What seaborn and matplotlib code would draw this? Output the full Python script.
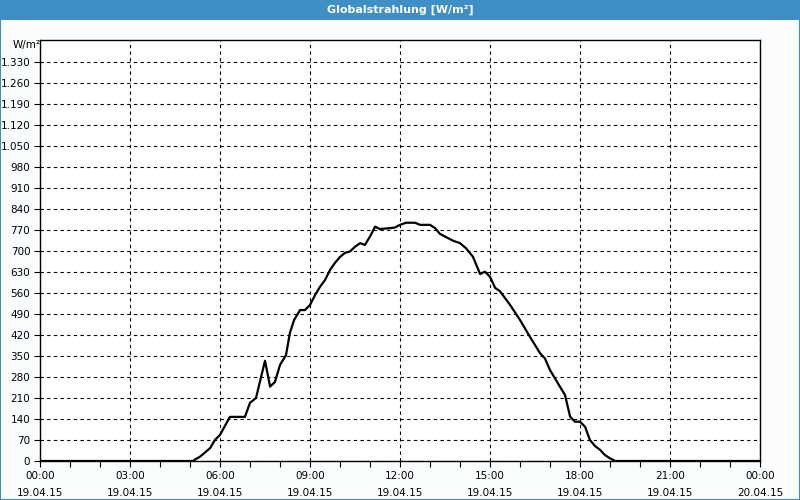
import matplotlib
matplotlib.use("Agg")
import matplotlib.pyplot as plt
import seaborn as sns
import pandas as pd
import numpy as np
from matplotlib.patches import Rectangle

# Data (hours since 19.04.15 00:00, W/m²)
hours = [0.0, 5.1, 5.17, 5.33, 5.67, 5.83, 6.0, 6.33, 6.83, 7.0, 7.2, 7.5, 7.67, 7.83,
         8.0, 8.2, 8.33, 8.47, 8.67, 8.83, 9.0, 9.17, 9.33, 9.5, 9.67, 9.83, 10.0,
         10.17, 10.33, 10.5, 10.67, 10.83, 11.0, 11.17, 11.33, 11.67, 11.83, 12.0,
         12.2, 12.5, 12.67, 13.0, 13.17, 13.33, 13.5, 13.77, 14.0, 14.2, 14.43,
         14.67, 14.83, 15.0, 15.17, 15.33, 15.67, 16.0, 16.33, 16.67, 16.83, 17.0,
         17.33, 17.5, 17.67, 17.83, 18.0, 18.17, 18.33, 18.5, 18.67, 18.83, 19.0,
         19.17, 24.0]
radiation = [0, 0, 5, 14, 43, 70, 87, 147, 147, 194, 210, 334, 248, 263,
             320, 353, 427, 470, 503, 503, 520, 553, 580, 603, 637, 660, 680,
             694, 698, 714, 726, 720, 748, 781, 773, 776, 778, 787,
             794, 794, 787, 787, 776, 757, 748, 734, 726, 709, 681,
             623, 631, 614, 577, 566, 520, 470, 414, 359, 342, 303,
             248, 220, 148, 131, 131, 114, 70, 50, 37, 20, 9,
             0, 0]
xtick_hours = [0, 3, 6, 9, 12, 15, 18, 21, 24]
xtick_labels = ["00:00\n19.04.15", "03:00\n19.04.15", "06:00\n19.04.15",
                "09:00\n19.04.15", "12:00\n19.04.15", "15:00\n19.04.15",
                "18:00\n19.04.15", "21:00\n19.04.15", "00:00\n20.04.15"]
ytick_values = list(range(0, 1331, 70))
title = "Globalstrahlung [W/m²]"
unit = "W/m²"

df = pd.DataFrame({"hour": hours, "value": radiation})

fig = plt.figure(figsize=(8, 5), dpi=100, facecolor="#fbfdfd")
ax = fig.add_axes([0.05, 0.078, 0.90, 0.842])
ax.set_facecolor("white")

sns.lineplot(data=df, x="hour", y="value", ax=ax, color="black", linewidth=1.6)

ax.set_xlim(0, 24)
ax.set_ylim(0, 1403)
ax.set_xticks(xtick_hours)
ax.set_xticklabels(xtick_labels, fontsize=7.5, linespacing=1.9)
ax.set_xticks(range(0, 25), minor=True)
ax.set_yticks(ytick_values)
ax.set_yticklabels([f"{v:,}".replace(",", ".") for v in ytick_values], fontsize=7.5)
ax.tick_params(axis="both", which="major", length=4, width=0.8, direction="out", pad=3)
ax.tick_params(axis="x", which="minor", length=4, width=0.8, direction="out")
ax.set_xlabel("")
ax.set_ylabel("")

ax.grid(True, which="major", color="black", linestyle=(0, (3, 3)), linewidth=0.8)
ax.set_axisbelow(True)
for s in ax.spines.values():
    s.set_linewidth(1.0)
    s.set_color("black")

fig.text(0.033, 0.91, unit, fontsize=7.5, ha="center", va="center")

# Title bar
bar_color = "#3d8fc6"
fig.add_artist(Rectangle((0, 0.96), 1, 0.04, transform=fig.transFigure,
                         facecolor=bar_color, edgecolor="none"))
fig.text(0.5, 0.98, title, color="white", fontsize=8, fontweight="bold",
         ha="center", va="center")
# Blue frame
fig.add_artist(Rectangle((0.0006, 0.001), 0.9988, 0.998, transform=fig.transFigure,
                         facecolor="none", edgecolor=bar_color, linewidth=1.5))

fig.savefig("out.png", dpi=100, facecolor=fig.get_facecolor())
